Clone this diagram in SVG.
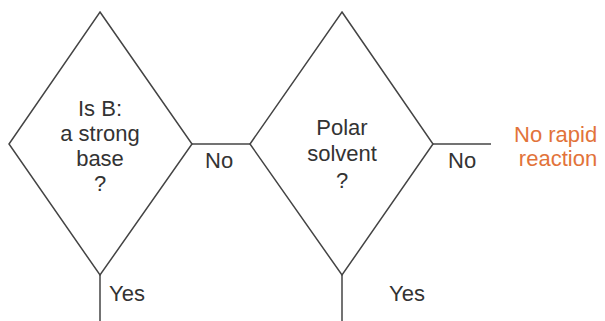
<svg xmlns="http://www.w3.org/2000/svg" width="605" height="321" viewBox="0 0 605 321">
<style>
.shape{fill:none;stroke:#444;stroke-width:1.5}
.t{font-family:"Liberation Sans",Arial,sans-serif;font-size:22px;fill:#333}
.c{text-anchor:middle}
.o{fill:#E2733A}
</style>
<rect width="605" height="321" fill="#fff"/>
<g id="connectors">
<line class="shape" x1="192" y1="144" x2="250" y2="144"/>
<line class="shape" x1="100" y1="275" x2="100" y2="321"/>
<line class="shape" x1="342" y1="275" x2="342" y2="321"/>
<line class="shape" x1="433" y1="144" x2="491" y2="144"/>
<text class="t" x="205" y="168">No</text>
<text class="t" x="448" y="168">No</text>
<text class="t" x="109" y="301">Yes</text>
<text class="t" x="389" y="301">Yes</text>
</g>
<g id="strong-base">
<polygon class="shape" points="100,12 192,144 100,275 9,144"/>
<text class="t c" x="100" y="116">Is B:</text>
<text class="t c" x="100" y="141">a strong</text>
<text class="t c" x="100" y="166">base</text>
<text class="t c" x="100" y="191">?</text>
</g>
<g id="polar-solvent">
<polygon class="shape" points="342,12 433,144 342,275 250,144"/>
<text class="t c" x="342" y="135">Polar</text>
<text class="t c" x="342" y="161">solvent</text>
<text class="t c" x="342" y="188">?</text>
</g>
<g id="no-rapid">
<text class="t o" x="514" y="142">No rapid</text>
<text class="t o c" x="558" y="166">reaction</text>
</g>
</svg>
